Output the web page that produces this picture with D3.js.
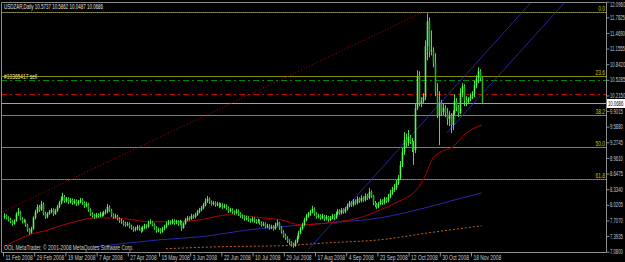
<!DOCTYPE html>
<html>
<head>
<meta charset="utf-8">
<script src="https://cdn.jsdelivr.net/npm/d3@7"></script>
<style>
  html, body { margin: 0; padding: 0; background: #000; }
  svg { display: block; }
  text { font-family: "Liberation Sans", Arial, sans-serif; }
</style>
</head>
<body>
<svg id="chart" width="625" height="262"></svg>
<script>
// USDZAR daily, 11 Feb 2008 - 24 Nov 2008 (one bar per trading day, broker sends Sunday bars too)
var opens = [
  7.78,7.80,7.76,7.72,7.68,7.64,7.70,7.84,7.88,7.74,
  7.68,7.70,7.62,7.52,7.46,7.54,7.76,7.88,7.98,7.92,
  8.04,7.84,7.78,7.84,7.88,7.92,7.84,7.90,7.98,8.06,
  8.14,8.18,8.10,8.14,8.08,8.12,8.06,8.10,8.04,8.08,
  8.12,8.06,8.00,8.04,7.92,7.84,7.80,7.78,7.82,7.80,
  7.84,7.82,7.86,7.88,7.98,7.92,7.82,7.78,7.80,7.74,
  7.70,7.68,7.64,7.62,7.64,7.58,7.56,7.52,7.54,7.58,
  7.54,7.50,7.56,7.60,7.58,7.66,7.68,7.62,7.56,7.50,
  7.52,7.48,7.54,7.58,7.64,7.68,7.66,7.70,7.66,7.68,
  7.64,7.68,7.56,7.64,7.72,7.76,7.74,7.80,7.78,7.82,
  7.88,7.92,7.96,8.02,8.10,8.14,8.08,8.04,8.06,8.02,
  8.04,8.00,8.02,7.98,8.00,7.96,7.90,7.92,7.88,7.86,
  7.90,7.84,7.80,7.78,7.74,7.76,7.72,7.70,7.74,7.70,
  7.68,7.70,7.66,7.62,7.64,7.58,7.60,7.56,7.58,7.54,
  7.62,7.66,7.56,7.48,7.40,7.36,7.30,7.26,7.22,7.20,
  7.28,7.36,7.46,7.54,7.62,7.72,7.80,7.84,7.88,7.94,
  7.84,7.78,7.80,7.76,7.80,7.74,7.78,7.72,7.76,7.80,
  7.76,7.84,7.90,7.86,7.92,7.88,7.94,8.00,8.06,8.02,
  8.10,8.06,8.14,8.10,8.16,8.12,8.20,8.16,8.28,8.20,
  8.06,8.02,7.98,8.04,8.10,8.06,8.14,8.10,8.18,8.26,
  8.32,8.36,8.46,8.56,8.82,9.08,9.32,9.26,9.38,9.28,
  9.16,9.12,9.96,10.60,10.06,10.10,10.18,11.20,11.70,11.10,
  11.12,10.86,10.30,9.80,10.06,9.88,9.96,9.86,9.74,9.80,
  9.62,9.86,10.10,9.98,9.86,10.26,10.40,10.12,10.08,10.14,
  10.20,10.24,10.42,10.56,10.70,10.5737
];
var highs = [
  7.85,7.83,7.79,7.76,7.71,7.73,7.87,7.96,7.90,7.77,
  7.74,7.72,7.64,7.55,7.58,7.79,7.92,8.03,8.02,8.10,
  8.07,7.88,7.87,7.92,7.96,7.95,7.94,8.02,8.10,8.19,
  8.26,8.22,8.18,8.17,8.16,8.15,8.14,8.13,8.12,8.16,
  8.15,8.09,8.08,8.06,7.95,7.87,7.84,7.86,7.85,7.88,
  7.87,7.90,7.93,8.04,8.01,7.94,7.85,7.84,7.82,7.77,
  7.74,7.71,7.68,7.68,7.67,7.62,7.59,7.58,7.62,7.61,
  7.57,7.60,7.64,7.63,7.70,7.73,7.70,7.65,7.59,7.56,
  7.55,7.58,7.62,7.68,7.72,7.71,7.74,7.73,7.72,7.71,
  7.72,7.70,7.67,7.76,7.80,7.79,7.84,7.83,7.86,7.92,
  7.96,8.00,8.06,8.15,8.20,8.17,8.11,8.10,8.09,8.08,
  8.07,8.06,8.05,8.04,8.03,7.99,7.96,7.95,7.91,7.94,
  7.93,7.87,7.83,7.81,7.80,7.79,7.75,7.78,7.77,7.73,
  7.74,7.73,7.69,7.68,7.67,7.64,7.63,7.62,7.61,7.66,
  7.72,7.68,7.59,7.51,7.44,7.39,7.33,7.29,7.26,7.32,
  7.40,7.50,7.58,7.66,7.76,7.84,7.88,7.92,8.00,7.97,
  7.87,7.84,7.83,7.84,7.82,7.82,7.80,7.80,7.84,7.83,
  7.88,7.94,7.93,7.96,7.95,7.98,8.05,8.10,8.09,8.14,
  8.13,8.19,8.17,8.21,8.19,8.25,8.24,8.36,8.31,8.22,
  8.10,8.06,8.08,8.14,8.13,8.18,8.17,8.24,8.32,8.38,
  8.44,8.52,8.62,8.90,9.16,9.48,9.45,9.52,9.42,9.36,
  9.30,10.04,10.72,10.70,10.18,10.26,11.32,11.86,11.78,11.52,
  11.18,11.06,10.46,10.30,10.12,10.06,10.02,9.96,9.90,9.86,
  9.92,10.24,10.16,10.02,10.36,10.46,10.44,10.20,10.18,10.26,
  10.30,10.52,10.62,10.78,10.74,10.5862
];
var lows = [
  7.74,7.73,7.69,7.65,7.60,7.62,7.68,7.80,7.71,7.65,
  7.66,7.58,7.48,7.42,7.44,7.52,7.73,7.85,7.88,7.90,
  7.81,7.74,7.75,7.82,7.85,7.80,7.82,7.88,7.95,8.03,
  8.10,8.06,8.07,8.04,8.05,8.02,8.03,8.00,8.01,8.05,
  8.02,7.96,7.97,7.88,7.80,7.76,7.74,7.75,7.76,7.77,
  7.78,7.79,7.83,7.85,7.88,7.78,7.74,7.75,7.71,7.66,
  7.64,7.60,7.58,7.59,7.55,7.52,7.48,7.49,7.51,7.50,
  7.46,7.48,7.53,7.54,7.56,7.63,7.59,7.52,7.46,7.47,
  7.44,7.46,7.51,7.55,7.61,7.62,7.63,7.62,7.63,7.60,
  7.61,7.50,7.54,7.62,7.69,7.70,7.72,7.74,7.75,7.80,
  7.85,7.89,7.93,7.99,8.06,8.04,8.00,8.01,7.98,7.99,
  7.96,7.97,7.94,7.95,7.92,7.86,7.87,7.84,7.82,7.83,
  7.80,7.76,7.74,7.70,7.71,7.68,7.66,7.67,7.66,7.64,
  7.65,7.62,7.58,7.59,7.55,7.55,7.52,7.53,7.50,7.52,
  7.59,7.52,7.44,7.36,7.32,7.26,7.22,7.18,7.16,7.18,
  7.25,7.33,7.43,7.51,7.59,7.69,7.76,7.80,7.85,7.80,
  7.74,7.75,7.72,7.73,7.70,7.71,7.68,7.69,7.73,7.72,
  7.74,7.81,7.82,7.83,7.84,7.85,7.91,7.97,7.98,7.99,
  8.02,8.03,8.06,8.07,8.08,8.09,8.12,8.13,8.16,8.01,
  7.97,7.94,7.95,8.01,8.02,8.03,8.06,8.07,8.15,8.22,
  8.28,8.32,8.42,8.52,8.78,9.02,9.16,9.20,9.24,9.08,
  8.82,9.06,9.92,10.00,9.98,10.06,10.12,10.92,10.98,11.02,
  10.78,10.20,9.76,9.22,9.80,9.82,9.78,9.62,9.60,9.46,
  9.52,9.82,9.90,9.78,9.84,10.18,10.00,10.00,10.04,10.10,
  10.14,10.18,10.36,10.46,10.50,10.0487
];
var closes = [
  7.80,7.76,7.72,7.68,7.64,7.70,7.84,7.88,7.74,7.68,
  7.70,7.62,7.52,7.46,7.54,7.76,7.88,7.98,7.92,8.04,
  7.84,7.78,7.84,7.88,7.92,7.84,7.90,7.98,8.06,8.14,
  8.18,8.10,8.14,8.08,8.12,8.06,8.10,8.04,8.08,8.12,
  8.06,8.00,8.04,7.92,7.84,7.80,7.78,7.82,7.80,7.84,
  7.82,7.86,7.88,7.98,7.92,7.82,7.78,7.80,7.74,7.70,
  7.68,7.64,7.62,7.64,7.58,7.56,7.52,7.54,7.58,7.54,
  7.50,7.56,7.60,7.58,7.66,7.68,7.62,7.56,7.50,7.52,
  7.48,7.54,7.58,7.64,7.68,7.66,7.70,7.66,7.68,7.64,
  7.68,7.56,7.64,7.72,7.76,7.74,7.80,7.78,7.82,7.88,
  7.92,7.96,8.02,8.10,8.14,8.08,8.04,8.06,8.02,8.04,
  8.00,8.02,7.98,8.00,7.96,7.90,7.92,7.88,7.86,7.90,
  7.84,7.80,7.78,7.74,7.76,7.72,7.70,7.74,7.70,7.68,
  7.70,7.66,7.62,7.64,7.58,7.60,7.56,7.58,7.54,7.62,
  7.66,7.56,7.48,7.40,7.36,7.30,7.26,7.22,7.20,7.28,
  7.36,7.46,7.54,7.62,7.72,7.80,7.84,7.88,7.94,7.84,
  7.78,7.80,7.76,7.80,7.74,7.78,7.72,7.76,7.80,7.76,
  7.84,7.90,7.86,7.92,7.88,7.94,8.00,8.06,8.02,8.10,
  8.06,8.14,8.10,8.16,8.12,8.20,8.16,8.28,8.20,8.06,
  8.02,7.98,8.04,8.10,8.06,8.14,8.10,8.18,8.26,8.32,
  8.36,8.46,8.56,8.82,9.08,9.32,9.26,9.38,9.28,9.16,
  9.12,9.96,10.60,10.06,10.10,10.18,11.20,11.70,11.10,11.12,
  10.86,10.30,9.80,10.06,9.88,9.96,9.86,9.74,9.80,9.62,
  9.86,10.10,9.98,9.86,10.26,10.40,10.12,10.08,10.14,10.20,
  10.24,10.42,10.56,10.70,10.57,10.0686
];

// moving averages (bar index, value)
var redMaBar = [0,6,13,21,29,36,43,49,62,75,85,101,108,116,124,132,142,152,167,184,193,203,210,215,220,224,230,237,245];
var redMaVal = [7.18,7.30,7.42,7.50,7.60,7.68,7.74,7.76,7.74,7.68,7.68,7.72,7.78,7.82,7.80,7.76,7.72,7.62,7.66,7.78,7.92,8.10,8.26,8.52,8.96,9.08,9.18,9.46,9.62];
var blueMaBar = [47,65,80,101,126,142,167,193,218,235,245];
var blueMaVal = [7.18,7.26,7.32,7.38,7.52,7.58,7.66,7.76,7.98,8.16,8.26];
var orangeMaBar = [83,111,142,167,193,218,245];
var orangeMaVal = [7.14,7.18,7.20,7.26,7.32,7.46,7.60];

// fibonacci retracement anchors (bar, price) and levels
var fibAnchorBar = [-77, 215];
var fibAnchorPrice = [6.46, 11.89];
var fibLevels = [0, 23.6, 38.2, 50.0, 61.8];

// trend channel lines: start anchor, second anchor, drawn as rays
var chanABar = [156, 220], chanAPrice = [7.12, 9.90];
var chanBBar = [227, 245], chanBPrice = [9.46, 10.24];

// order lines
var orderPrice = 10.52, orderText = '#10365417 sell';
var targetPrice = 10.24;

var priceTicks = [12.0960,11.7825,11.4690,11.1555,10.8420,10.5285,10.2150,9.9015,9.5880,9.2745,8.9610,8.6475,8.3340,8.0205,7.7070,7.3935,7.0800];
var dateBars = [0,16,32,48,64,80,96,112,128,144,160,176,192,208,224,240];
var dateLabels = ['11 Feb 2008','29 Feb 2008','19 Mar 2008','7 Apr 2008','27 Apr 2008','15 May 2008','3 Jun 2008','22 Jun 2008','10 Jul 2008','29 Jul 2008','17 Aug 2008','4 Sep 2008','23 Sep 2008','12 Oct 2008','30 Oct 2008','18 Nov 2008'];
var header = 'USDZAR,Daily  10.5737 10.5862 10.0487 10.0686';
var copyright = 'OOL MetaTrader, \u00a9 2001-2008 MetaQuotes Software Corp.';

var W = 625, H = 262;
var plotL = 1, plotR = 606, plotT = 2, plotB = 252;

var x = d3.scaleLinear().domain([0, 245]).range([4, 481.75]);
var y = d3.scaleLinear().domain([7.08, 12.096]).range([251.7, 1.7]);

var svg = d3.select('#chart');
svg.append('rect').attr('width', W).attr('height', H).attr('fill', '#000');

svg.append('defs').append('clipPath').attr('id', 'plotclip')
  .append('rect').attr('x', plotL).attr('y', plotT).attr('width', plotR - plotL).attr('height', plotB - plotT);

var plot = svg.append('g').attr('clip-path', 'url(#plotclip)');

// squeezed small text, like the old Tahoma captions
function caption(sel, tx, ty, str, fill, anchor, sx) {
  return sel.append('text')
    .attr('transform', 'translate(' + tx + ',' + ty + ') scale(' + (sx || 0.7) + ',1)')
    .attr('font-size', 7)
    .attr('fill', fill)
    .attr('text-anchor', anchor || 'start')
    .text(str);
}

// fibo levels
var fibHigh = fibAnchorPrice[1], fibLow = fibAnchorPrice[0];
fibLevels.forEach(function(lv) {
  var py = Math.round(y(fibHigh - lv / 100 * (fibHigh - fibLow))) + 0.5;
  var edge = (lv === 0 || lv === 61.8);
  plot.append('line').attr('x1', plotL).attr('x2', plotR).attr('y1', py).attr('y2', py)
    .attr('stroke', edge ? '#6a6a30' : '#8c8c00').attr('stroke-width', 1);
  if (edge) {
    plot.append('line').attr('x1', plotL).attr('x2', plotR).attr('y1', py).attr('y2', py)
      .attr('stroke', '#8a8a70').attr('stroke-dasharray', '1,1');
  }
  caption(svg, plotR - 1, py - 1.5, lv.toFixed(1), '#c8c800', 'end');
});

// order + target lines
var orderY = Math.round(y(orderPrice)) + 0.5, targetY = Math.round(y(targetPrice)) + 0.5;
plot.append('line').attr('x1', plotL).attr('x2', plotR).attr('y1', orderY).attr('y2', orderY)
  .attr('stroke', '#008a00').attr('stroke-dasharray', '6,3,2,3');
plot.append('line').attr('x1', plotL).attr('x2', plotR).attr('y1', targetY).attr('y2', targetY)
  .attr('stroke', '#c00000').attr('stroke-dasharray', '6,3,2,3');

// current price line
var lastY = Math.round(y(closes[closes.length - 1])) + 0.5;
plot.append('line').attr('x1', plotL).attr('x2', plotR).attr('y1', lastY).attr('y2', lastY)
  .attr('stroke', '#a0a0a0');

// fibo trend line (red dotted)
plot.append('line')
  .attr('x1', x(fibAnchorBar[0])).attr('y1', y(fibAnchorPrice[0]))
  .attr('x2', x(fibAnchorBar[1])).attr('y2', y(fibAnchorPrice[1]))
  .attr('stroke', '#c00000').attr('stroke-dasharray', '1,2');

// channel rays
function ray(bars, prices) {
  var slope = (prices[1] - prices[0]) / (bars[1] - bars[0]);
  var endBar = x.invert(plotR + 5);
  plot.append('line')
    .attr('x1', x(bars[0])).attr('y1', y(prices[0]))
    .attr('x2', x(endBar)).attr('y2', y(prices[0] + slope * (endBar - bars[0])))
    .attr('stroke', '#3030c0').attr('stroke-width', 0.8);
}
ray(chanABar, chanAPrice);
ray(chanBBar, chanBPrice);

// moving averages
function maLine(bars, vals, color, dash, width) {
  var pts = bars.map(function(b, i) { return [b, vals[i]]; });
  plot.append('path').datum(pts)
    .attr('fill', 'none').attr('stroke', color).attr('stroke-width', width)
    .attr('stroke-dasharray', dash)
    .attr('d', d3.line().x(function(d) { return x(d[0]); }).y(function(d) { return y(d[1]); }).curve(d3.curveMonotoneX));
}
maLine(orangeMaBar, orangeMaVal, '#c8641e', '2,2', 1);
maLine(blueMaBar, blueMaVal, '#2828a8', null, 1);
maLine(redMaBar, redMaVal, '#b00000', null, 1);

// candles
var bars = d3.range(closes.length);
var candle = plot.append('g').selectAll('g.candle').data(bars).enter().append('g').classed('candle', true);
candle.append('line')
  .attr('x1', function(i) { return Math.round(x(i)) + 0.5; })
  .attr('x2', function(i) { return Math.round(x(i)) + 0.5; })
  .attr('y1', function(i) { return y(highs[i]); })
  .attr('y2', function(i) { return y(lows[i]); })
  .attr('stroke', '#44e044');
candle.append('rect')
  .attr('x', function(i) { return Math.round(x(i)) - 0.3; })
  .attr('width', 1.6)
  .attr('y', function(i) { return y(Math.max(opens[i], closes[i])); })
  .attr('height', function(i) { return Math.max(1, Math.abs(y(opens[i]) - y(closes[i]))); })
  .attr('fill', function(i) { return closes[i] >= opens[i] ? '#5cf05c' : '#2aa82a'; });

// order label on top of the lines
caption(svg, 4, orderY - 1.5, orderText, '#e8e8b8');

// frame
svg.append('path')
  .attr('d', 'M' + (plotL + 0.5) + ',' + (plotT + 0.5) + 'H' + (plotR + 0.5) + 'V' + (plotB + 0.5) + 'H' + (plotL + 0.5) + 'Z')
  .attr('stroke', '#8c8c8c').attr('fill', 'none');

// right price axis
var yAxis = svg.append('g').attr('transform', 'translate(' + (plotR + 0.5) + ',0)')
  .call(d3.axisRight(y).tickValues(priceTicks).tickFormat(d3.format('.4f')).tickSize(3).tickSizeOuter(0));
yAxis.select('.domain').remove();
yAxis.selectAll('line').attr('stroke', '#8c8c8c');
yAxis.selectAll('text').attr('x', null)
  .attr('dy', function(d) { return d === priceTicks[0] ? '0.75em' : '0.32em'; })
  .attr('transform', 'translate(3.5,0) scale(0.64,1)')
  .attr('font-size', 6.6).attr('font-family', '"Liberation Sans", Arial, sans-serif').attr('fill', '#c8c8c8');

// bottom time axis
var xAxis = svg.append('g').attr('transform', 'translate(-1,' + (plotB + 0.5) + ')')
  .call(d3.axisBottom(x).tickValues(dateBars).tickFormat(function(d, i) { return dateLabels[i]; }).tickSize(4).tickSizeOuter(0));
xAxis.select('.domain').remove();
xAxis.selectAll('line').attr('stroke', '#8c8c8c');
xAxis.selectAll('text').attr('y', null).attr('dy', null).attr('text-anchor', 'start')
  .attr('transform', 'translate(2,7.5) scale(0.7,1)')
  .attr('font-size', 7).attr('font-family', '"Liberation Sans", Arial, sans-serif').attr('fill', '#c8c8c8');

// current price tag
svg.append('rect').attr('x', plotR + 1).attr('y', lastY - 4.5).attr('width', 18).attr('height', 9).attr('fill', '#ffffff');
svg.append('text')
  .attr('transform', 'translate(' + (plotR + 2) + ',' + (lastY + 2.3) + ') scale(0.64,1)')
  .attr('font-size', 6.6).attr('fill', '#000').text(closes[closes.length - 1].toFixed(4));

// captions
caption(svg, 4, 9, header, '#e0e0e0', 'start', 0.64);
caption(svg, 4, 250, copyright, '#d0d0d0');
</script>
</body>
</html>
